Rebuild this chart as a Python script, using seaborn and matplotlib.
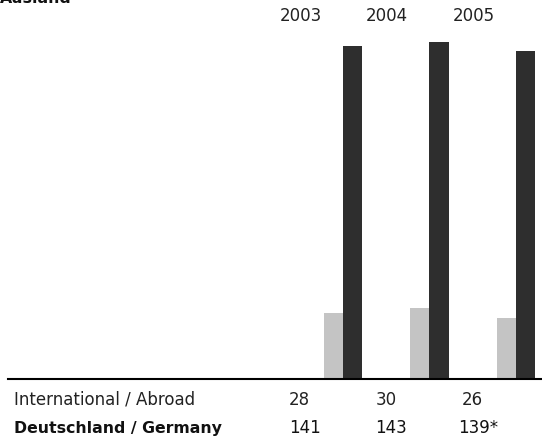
import matplotlib
matplotlib.use("Agg")
import matplotlib.pyplot as plt
import matplotlib.transforms as mtransforms
import seaborn as sns
import pandas as pd

years = ["2003", "2004", "2005"]
abroad = [28, 30, 26]
germany = [141, 143, 139]
germany_labels = ["141", "143", "139*"]
abroad_labels = ["28", "30", "26"]
series_names = ["International / Abroad", "Deutschland / Germany"]
title = "Ausland"

df = pd.DataFrame({
    "year": years * 2,
    "value": abroad + germany,
    "series": [series_names[0]] * 3 + [series_names[1]] * 3,
})

sns.set_style("white")
plt.rcParams["font.family"] = ["DejaVu Sans"]

W, H = 542, 438
fig = plt.figure(figsize=(W / 100, H / 100), dpi=100)
# axes: left at px 8, right at 542, bottom at px 379, top at px 30
ax = fig.add_axes([8 / W, (H - 379) / H, (542 - 8) / W, (379 - 30) / H])

sns.barplot(data=df, x="year", y="value", hue="series", order=years,
            hue_order=series_names, palette=["#c4c4c4", "#2e2e2e"],
            width=0.44, ax=ax, legend=False, saturation=1,
            edgecolor="none", linewidth=0)

ax.set_xlim(-3.87, 2.30)
ax.set_ylim(0, 147.9)
for s in ["top", "right", "left"]:
    ax.spines[s].set_visible(False)
ax.spines["bottom"].set_color("black")
ax.spines["bottom"].set_linewidth(1.5)
ax.set_xticks([])
ax.set_yticks([])
ax.set_xlabel("")
ax.set_ylabel("")
ax.patch.set_alpha(0)

trans = mtransforms.blended_transform_factory(ax.transData, fig.transFigure)
fs_reg = 12
fs_bold = 11.3
for i, y in enumerate(years):
    ax.text(i - 0.49, 1 - 21 / H, y, transform=trans, ha="center",
            va="baseline", fontsize=fs_reg, color="#222222")
    ax.text(i - 0.50, 1 - 405 / H, abroad_labels[i], transform=trans,
            ha="center", va="baseline", fontsize=fs_reg, color="#222222")
    ax.text(i - 0.44, 1 - 433 / H, germany_labels[i], transform=trans,
            ha="center", va="baseline", fontsize=fs_reg, color="#111111")

fig.text(14 / W, 1 - 405 / H, series_names[0], ha="left", va="baseline",
         fontsize=fs_reg, color="#222222")
fig.text(14 / W, 1 - 433 / H, series_names[1], ha="left", va="baseline",
         fontsize=fs_bold, color="#111111", fontweight="bold")
fig.text(0 / W, 1 - 3 / H, title, ha="left", va="baseline",
         fontsize=fs_bold, color="#111111", fontweight="bold")

fig.savefig("out.png", dpi=100)
